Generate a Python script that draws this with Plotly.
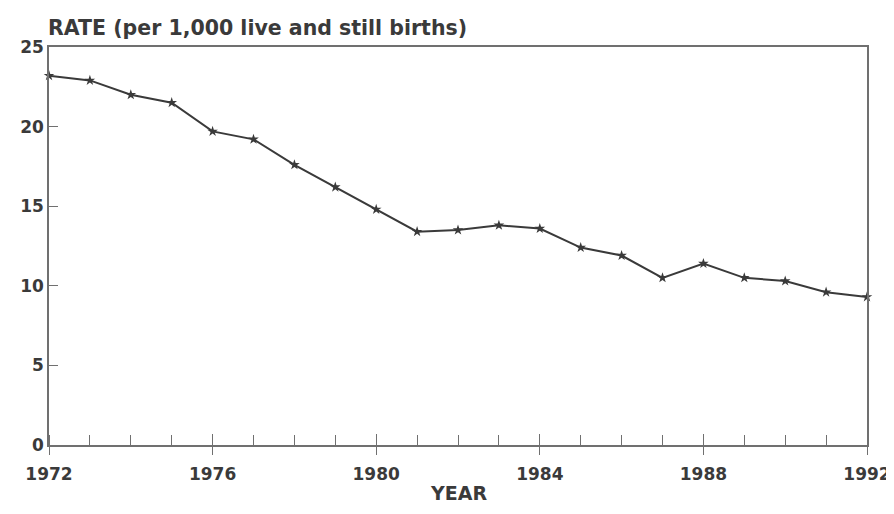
import plotly.graph_objects as go

years = list(range(1972, 1993))
rate = [23.2, 22.9, 22.0, 21.5, 19.7, 19.2, 17.6, 16.2, 14.8, 13.4, 13.5,
        13.8, 13.6, 12.4, 11.9, 10.5, 11.4, 10.5, 10.3, 9.6, 9.3]
major_years = list(range(1972, 1993, 4))

ink = "#3a3a3a"
axis_col = "#707070"
font_family = "DejaVu Sans, Verdana, sans-serif"

fig = go.Figure()
fig.add_trace(go.Scatter(
    x=years, y=rate, mode="lines+markers",
    line=dict(color=ink, width=2),
    marker=dict(symbol="star", size=8, color=ink),
    cliponaxis=False, showlegend=False,
))
# invisible trace so the overlay axis (inner half of the major ticks) is drawn
fig.add_trace(go.Scatter(x=[years[0]], y=[rate[0]], xaxis="x2", mode="markers",
                         marker=dict(opacity=0), hoverinfo="skip", showlegend=False))

fig.update_layout(
    xaxis=dict(
        range=[1972, 1992], tickvals=major_years,
        ticks="outside", ticklen=8, tickwidth=1.3, tickcolor=axis_col,
        minor=dict(tickvals=years, ticks="inside", ticklen=10, tickwidth=1.2, tickcolor=axis_col),
        showline=True, linecolor=axis_col, linewidth=1.5, mirror=True,
        showgrid=False, zeroline=False, ticklabelstandoff=5,
        ticklabeloverflow="allow", automargin=False,
        tickfont=dict(size=17, color=ink, family=font_family, weight="bold"),
    ),
    xaxis2=dict(
        overlaying="x", anchor="y", side="bottom", range=[1972, 1992],
        tickvals=major_years, ticks="inside", ticklen=11, tickwidth=1.3, tickcolor=axis_col,
        showticklabels=False, showline=False, showgrid=False, zeroline=False,
        automargin=False,
    ),
    yaxis=dict(
        range=[0, 25], dtick=5,
        ticks="inside", ticklen=9, tickwidth=1.3, tickcolor=axis_col,
        showline=True, linecolor=axis_col, linewidth=1.5, mirror=True,
        showgrid=False, zeroline=False, automargin=False,
        tickfont=dict(size=17, color=ink, family=font_family, weight="bold"),
    ),
)

fig.add_annotation(
    text="RATE (per 1,000 live and still births)",
    xref="paper", yref="paper", x=0, y=1, xanchor="left", yanchor="bottom",
    xshift=-3, yshift=5, showarrow=False,
    font=dict(size=20.5, color=ink, family=font_family, weight="bold"),
)
fig.add_annotation(
    text="YEAR",
    xref="paper", yref="paper", x=0.5, y=0, xanchor="center", yanchor="top",
    yshift=-35, showarrow=False,
    font=dict(size=19, color=ink, family=font_family, weight="bold"),
)

# the page body adds an 8px offset, so the figure is kept inside the window
fig.update_layout(
    width=886, height=498,
    margin=dict(l=41, r=27, t=39, b=61),
    paper_bgcolor="white", plot_bgcolor="white",
)

fig.write_html("out.html")
